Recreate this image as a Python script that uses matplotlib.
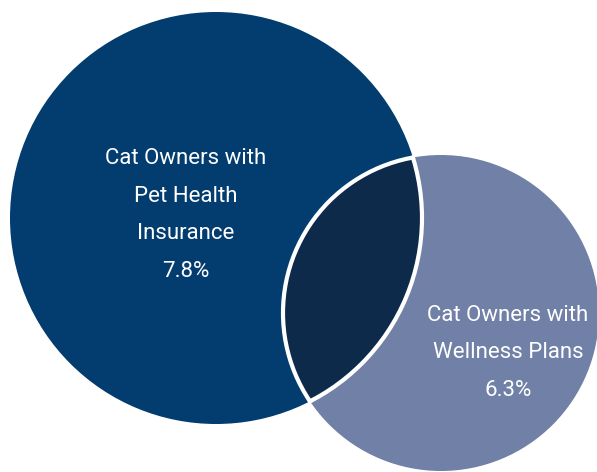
import matplotlib

matplotlib.use("Agg")
import matplotlib.pyplot as plt
from matplotlib.patches import Circle

# two overlapping sets, shares of cat owners
set_labels = ["Cat Owners with\nPet Health\nInsurance", "Cat Owners with\nWellness Plans"]
set_values = [7.8, 6.3]

# circle geometry in pixel space (x, y from top-left)
centers = [(216, 218), (441, 313)]
radii = [206, 158]
label_pos = [(186, 215), (508, 353)]

fill_colors = ["#033c6e", "#7180a6"]
overlap_color = "#0d2a4b"

fig = plt.figure(figsize=(5.97, 4.72), dpi=100)
ax = fig.add_axes([0, 0, 1, 1])
ax.set_xlim(0, 597)
ax.set_ylim(472, 0)
ax.set_aspect("equal")
ax.axis("off")

circles = []
for (cx, cy), r, c in zip(centers, radii, fill_colors):
    circ = Circle((cx, cy), r, facecolor=c, edgecolor="none", zorder=1)
    ax.add_patch(circ)
    circles.append(circ)

# overlap: second circle filled dark, clipped to the first
lens = Circle(centers[1], radii[1], facecolor=overlap_color, edgecolor="none", zorder=2)
ax.add_patch(lens)
lens.set_clip_path(circles[0])

# white outline of the overlap, each arc clipped to the other circle
for i, j in [(0, 1), (1, 0)]:
    rim = Circle(centers[i], radii[i], facecolor="none", edgecolor="white", linewidth=3, zorder=3)
    ax.add_patch(rim)
    clip = Circle(centers[j], radii[j] + 2, transform=ax.transData)
    rim.set_clip_path(clip)

for (x, y), lab, val in zip(label_pos, set_labels, set_values):
    ax.text(x, y, f"{lab}\n{val}%", ha="center", va="center", color="white",
            fontsize=16, family="Roboto", linespacing=2.05, zorder=4)

fig.savefig("out.png", dpi=100)
